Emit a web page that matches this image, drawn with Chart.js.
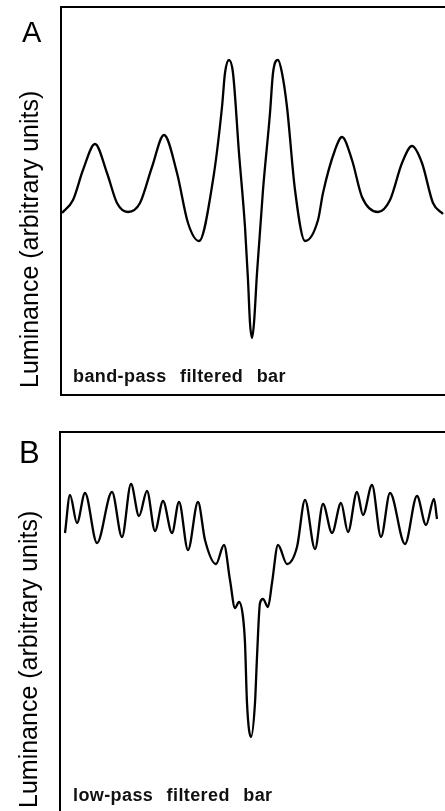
<!DOCTYPE html>
<html>
<head>
<meta charset="utf-8">
<script src="https://cdn.jsdelivr.net/npm/chart.js@4.4.1/dist/chart.umd.min.js"></script>
<style>
  html, body { margin: 0; padding: 0; background: #fff; overflow: hidden; width: 445px; height: 811px; }
  .panel { position: absolute; left: 0; }
  .letter { position: absolute; font-family: "Liberation Sans", Arial, sans-serif; color: #000; line-height: 1; }
  .note { position: absolute; font-family: "Liberation Sans", Arial, sans-serif; font-size: 18px; line-height: 18px;
          font-weight: bold; letter-spacing: 0.4px; word-spacing: 8px; color: #111; white-space: pre; }
</style>
</head>
<body>
<div class="panel" style="top:0; width:446px; height:400px;"><canvas id="chartA"></canvas></div>
<div class="panel" style="top:400px; width:446px; height:420px;"><canvas id="chartB"></canvas></div>
<div class="letter" style="left:22px; top:18px; font-size:29px;">A</div>
<div class="letter" style="left:19px; top:437px; font-size:31px;">B</div>
<div class="note" style="left:73px; top:367px;">band-pass filtered bar</div>
<div class="note" style="left:73px; top:786px;">low-pass filtered bar</div>
<script>
// panel A: band-pass filtered bar (position, luminance in arbitrary units)
var bandPos = [1, 12, 22, 34, 46, 56, 67, 79, 91, 103, 116, 127, 138, 152, 161, 164, 168, 172, 178, 184,
  187, 189, 191, 193, 196, 202, 209, 212, 217, 221, 226, 234, 244, 257, 262, 274, 281, 291, 301, 317,
  329, 341, 351, 361, 372, 382];
var bandLum = [182, 195, 225, 251, 222, 192, 183, 192, 228, 260, 222, 172, 154, 215, 288, 322, 335, 322, 242, 168,
  115, 72, 57, 72, 122, 205, 282, 322, 335, 322, 288, 205, 154, 175, 202, 245, 258, 235, 198, 183,
  195, 232, 249, 232, 192, 181];

// panel B: low-pass filtered bar
var lowPos = [5, 10, 17, 25, 37, 52, 62, 71, 79, 87, 95, 103, 112, 119, 128, 138, 145, 156, 164, 170,
  175, 179, 183, 185, 187, 191, 195, 197, 200, 203, 208, 212, 218, 227, 237, 245, 255, 263, 272, 281,
  288, 297, 303, 312, 321, 330, 345, 357, 366, 374, 377];
var lowLum = [279, 317, 289, 319, 269, 320, 275, 328, 296, 321, 281, 311, 279, 310, 262, 310, 272, 248, 267, 232,
  204, 210, 195, 169, 109, 75, 109, 155, 209, 213, 205, 229, 267, 248, 265, 312, 263, 308, 279, 309,
  280, 320, 297, 327, 275, 319, 268, 316, 287, 313, 293];

var yTitle = 'Luminance (arbitrary units)';
var fontFam = '"Liberation Sans", Arial, sans-serif';

// box lines round the plot area + the rotated axis title
var framePlugin = {
  id: 'frame',
  afterDraw: function(chart, args, opts) {
    var a = chart.chartArea, ctx = chart.ctx;
    ctx.save();
    ctx.strokeStyle = '#000';
    ctx.lineWidth = 2;
    ctx.beginPath();
    if (opts.top) { ctx.moveTo(a.left - 1, a.top); ctx.lineTo(a.right, a.top); }
    if (opts.left) { ctx.moveTo(a.left, a.top); ctx.lineTo(a.left, a.bottom); }
    if (opts.bottom) { ctx.moveTo(a.left - 1, a.bottom); ctx.lineTo(a.right, a.bottom); }
    ctx.stroke();
    // axis title, reading bottom to top
    ctx.translate(a.left - 23, a.bottom - opts.titleGap);
    ctx.rotate(-Math.PI / 2);
    ctx.fillStyle = '#000';
    ctx.font = '25px ' + fontFam;
    ctx.textAlign = 'left';
    ctx.textBaseline = 'alphabetic';
    ctx.fillText(yTitle, 0, 0);
    ctx.restore();
  }
};

function makePanel(id, xs, ys, xMax, yMax, pad, frameOpts) {
  var pts = xs.map(function(x, i) { return {x: x, y: ys[i]}; });
  return new Chart(document.getElementById(id), {
    type: 'line',
    data: {
      datasets: [{
        data: pts,
        borderColor: '#000',
        borderWidth: 2.3,
        pointRadius: 0,
        fill: false,
        cubicInterpolationMode: 'monotone'
      }]
    },
    options: {
      responsive: true,
      maintainAspectRatio: false,
      animation: false,
      layout: { padding: pad },
      plugins: { legend: { display: false }, tooltip: { enabled: false }, frame: frameOpts },
      scales: {
        x: { type: 'linear', min: 0, max: xMax, display: false },
        y: { min: 0, max: yMax, display: false }
      }
    },
    plugins: [framePlugin]
  });
}

makePanel('chartA', bandPos, bandLum, 385, 388, { left: 61, top: 7, right: 0, bottom: 5 },
  { top: true, left: true, bottom: true, titleGap: 7 });
makePanel('chartB', lowPos, lowLum, 386, 380, { left: 60, top: 32, right: 0, bottom: 8 },
  { top: true, left: true, bottom: false, titleGap: 4 });
</script>
</body>
</html>
